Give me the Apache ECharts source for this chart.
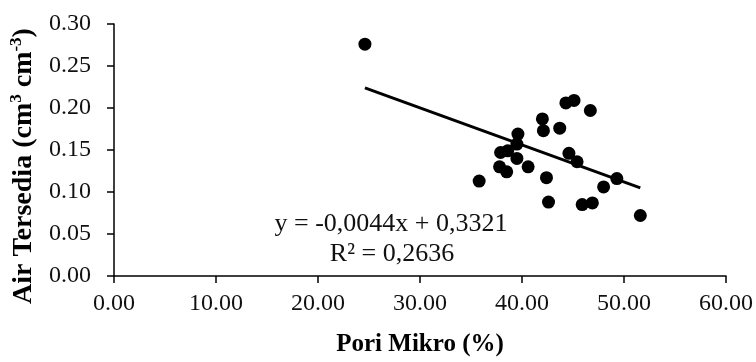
<!DOCTYPE html>
<html>
<head>
<meta charset="utf-8">
<script src="https://cdn.jsdelivr.net/npm/echarts@6/dist/echarts.min.js"></script>
<style>
  html, body { margin: 0; padding: 0; background: #fff; }
  #chart { width: 756px; height: 362px; }
</style>
</head>
<body>
<div id="chart"></div>
<script>
// pori mikro (%) vs air tersedia
var poriMikro = [24.6, 44.3, 45.1, 46.7, 42.0, 42.1, 43.7, 39.6, 39.5, 37.9, 38.6, 39.5, 37.8,
                 38.5, 40.6, 35.8, 42.4, 44.6, 45.4, 49.3, 48.0, 42.6, 45.9, 46.9, 51.6];
var airTersedia = [0.276, 0.206, 0.209, 0.197, 0.187, 0.173, 0.176, 0.169, 0.157, 0.147, 0.149, 0.140, 0.130,
                   0.124, 0.130, 0.113, 0.117, 0.146, 0.136, 0.116, 0.106, 0.088, 0.085, 0.087, 0.072];
// trend line ends
var trendX = [24.6, 51.6];
var trendY = [0.224, 0.105];
var eqText = 'y = -0,0044x + 0,3321';
var r2Text = 'R² = 0,2636';

var font = '"Liberation Serif", "DejaVu Serif", serif';

var points = [];
for (var i = 0; i < poriMikro.length; i++) {
  points.push([poriMikro[i], airTersedia[i]]);
}
var trend = [];
for (var j = 0; j < trendX.length; j++) {
  trend.push([trendX[j], trendY[j]]);
}

var myChart = echarts.init(document.getElementById('chart'));
var option = {
  animation: false,
  grid: { left: 114, right: 30, top: 24, bottom: 83 },
  textStyle: { fontFamily: font },
  xAxis: {
    type: 'value',
    min: 0, max: 60, interval: 10,
    name: 'Pori Mikro (%)',
    nameLocation: 'middle',
    nameGap: 56,
    nameTextStyle: { fontFamily: font, fontSize: 25, fontWeight: 'bold', color: '#000' },
    axisLine: { onZero: false, lineStyle: { color: '#000', width: 1.5 } },
    axisTick: { show: true, length: 7, lineStyle: { color: '#000', width: 1.5 } },
    axisLabel: {
      margin: 16, fontFamily: font, fontSize: 24, color: '#111',
      formatter: function (v) { return v.toFixed(2); }
    },
    splitLine: { show: false }
  },
  yAxis: {
    type: 'value',
    min: 0, max: 0.3, interval: 0.05,
    axisLine: { show: true, onZero: false, lineStyle: { color: '#000', width: 1.5 } },
    axisTick: { show: true, length: 7, lineStyle: { color: '#000', width: 1.5 } },
    axisLabel: {
      margin: 23, fontFamily: font, fontSize: 24, color: '#111',
      formatter: function (v) { return v.toFixed(2); }
    },
    splitLine: { show: false }
  },
  graphic: [
    {
      type: 'text', x: 23, y: 166, rotation: Math.PI / 2,
      style: {
        text: '{b|Air Tersedia (cm}{s|3}{b| cm}{s|-3}{b|)}',
        align: 'center', verticalAlign: 'middle',
        rich: {
          b: { fontFamily: font, fontSize: 28, fontWeight: 'bold', fill: '#000', verticalAlign: 'bottom', lineHeight: 30 },
          s: { fontFamily: font, fontSize: 17, fontWeight: 'bold', fill: '#000', verticalAlign: 'top', lineHeight: 30 }
        }
      }
    },
    { type: 'text', x: 391, y: 224, style: { text: eqText, fontFamily: font, fontSize: 26, fill: '#111', align: 'center', verticalAlign: 'middle' } },
    { type: 'text', x: 392, y: 254, style: { text: r2Text, fontFamily: font, fontSize: 26, fill: '#111', align: 'center', verticalAlign: 'middle' } }
  ],
  series: [
    {
      type: 'scatter',
      data: points,
      symbolSize: 13,
      itemStyle: { color: '#000', opacity: 1 },
      z: 3
    },
    {
      type: 'line',
      data: trend,
      symbol: 'none',
      lineStyle: { color: '#000', width: 3 },
      z: 2
    }
  ]
};
myChart.setOption(option);
</script>
</body>
</html>
